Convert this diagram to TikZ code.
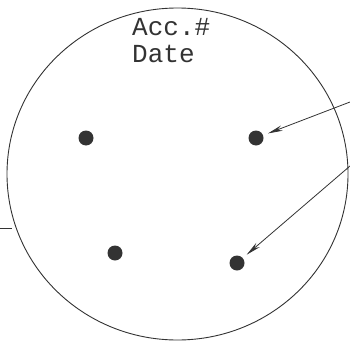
\documentclass[tikz,border=0pt]{standalone}
\usepackage{fontspec}
\newfontfamily\monofont{Liberation Mono}
\usetikzlibrary{arrows.meta}
\definecolor{ink}{HTML}{333333}
\tikzset{
  dish/.style={draw=ink, line width=0.9pt},
  dot/.style={circle, fill=ink, draw=none, minimum size=15pt, inner sep=0pt},
  arr/.style={draw=ink, line width=0.8pt, -{Stealth[length=15pt,width=5.5pt]}, shorten >=5pt},
  lbl/.style={inner sep=0pt, anchor=base west, text=ink, font=\monofont\fontsize{26}{26}\selectfont}
}
\begin{document}
\begin{tikzpicture}[x=1pt,y=-1pt]
\useasboundingbox (0,0) rectangle (350,345);
\draw[dish] (177.5,174) ellipse [x radius=170.5, y radius=166];
\node[lbl] (acc) at (132,36) {Acc.\#};
\node[lbl] (date) at (132,62) {Date};
\node[dot] (d1) at (86,138) {};
\node[dot] (d2) at (256,138) {};
\node[dot] (d3) at (115,253) {};
\node[dot] (d4) at (237,263) {};
\coordinate (s1) at (350,102);
\coordinate (s2) at (350,166);
\draw[arr] (s1) -- (d2);
\draw[arr] (s2) -- (d4);
\coordinate (m1) at (0,228);
\coordinate (m2) at (12,228);
\draw[draw=ink, line width=0.6pt] (m1) -- (m2);
\end{tikzpicture}
\end{document}
